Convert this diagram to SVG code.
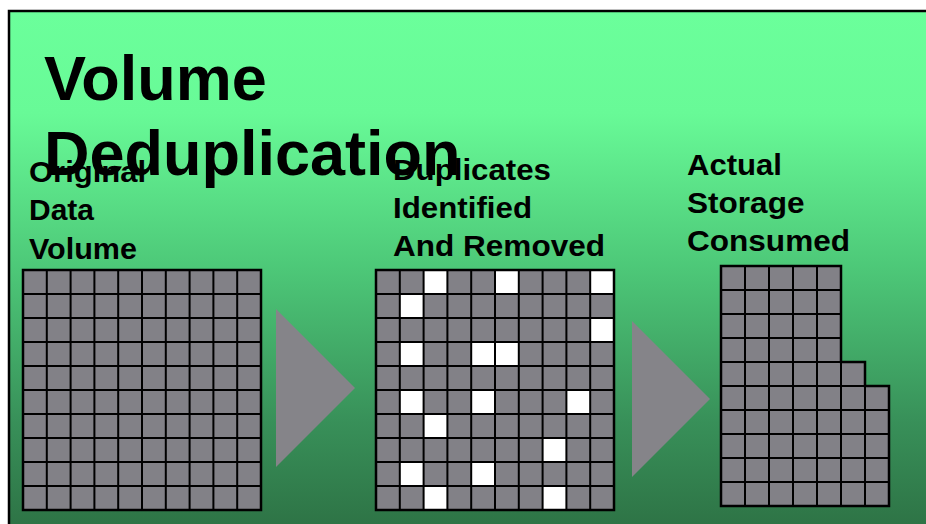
<svg xmlns="http://www.w3.org/2000/svg" width="926" height="524" viewBox="0 0 926 524">
  <defs>
    <linearGradient id="bg" gradientUnits="userSpaceOnUse" x1="0" y1="11" x2="0" y2="524">
      <stop offset="0" stop-color="#6BFF9B"/>
      <stop offset="0.2" stop-color="#68FA97"/>
      <stop offset="0.5" stop-color="#4DC878"/>
      <stop offset="0.8" stop-color="#389059"/>
      <stop offset="1" stop-color="#2E7446"/>
    </linearGradient>
    <style>
      .title { font-family: "Liberation Sans", Arial, sans-serif; font-weight: bold; font-size: 63px; fill: #000; }
      .label { font-family: "Liberation Sans", Arial, sans-serif; font-weight: bold; font-size: 30px; fill: #000; }
      .cellbg { fill: #828187; }
      .white { fill: #FFFFFF; }
      .lines { fill: none; stroke: #000; stroke-width: 2; }
      .outline { fill: none; stroke: #000; stroke-width: 2.5; }
      .arrow { fill: #858489; }
    </style>
  </defs>

  <rect x="0" y="0" width="926" height="524" fill="#FFFFFF"/>
  <rect x="9" y="11" width="930" height="530" fill="url(#bg)" stroke="#000" stroke-width="2.5"/>

  <g id="title">
    <text class="title" x="44" y="100">Volume</text>
    <text class="title" x="44" y="175">Deduplication</text>
  </g>

  <g id="label-original">
    <text class="label" x="29" y="181.5" textLength="117" lengthAdjust="spacingAndGlyphs">Original</text>
    <text class="label" x="29" y="220" textLength="65" lengthAdjust="spacingAndGlyphs">Data</text>
    <text class="label" x="29" y="258.5" textLength="108" lengthAdjust="spacingAndGlyphs">Volume</text>
  </g>

  <g id="label-duplicates">
    <text class="label" x="393" y="179.5" textLength="158" lengthAdjust="spacingAndGlyphs">Duplicates</text>
    <text class="label" x="393" y="217.5" textLength="139" lengthAdjust="spacingAndGlyphs">Identified</text>
    <text class="label" x="393" y="255.5" textLength="212" lengthAdjust="spacingAndGlyphs">And Removed</text>
  </g>

  <g id="label-actual">
    <text class="label" x="687" y="175" textLength="95" lengthAdjust="spacingAndGlyphs">Actual</text>
    <text class="label" x="687" y="213" textLength="117.5" lengthAdjust="spacingAndGlyphs">Storage</text>
    <text class="label" x="687" y="251" textLength="163" lengthAdjust="spacingAndGlyphs">Consumed</text>
  </g>

  <g id="grid-original">
    <rect class="cellbg" x="23" y="270" width="238" height="240"/>
    <path class="lines" d="M46.8 270V510M70.6 270V510M94.4 270V510M118.2 270V510M142 270V510M165.8 270V510M189.6 270V510M213.4 270V510M237.2 270V510M23 294H261M23 318H261M23 342H261M23 366H261M23 390H261M23 414H261M23 438H261M23 462H261M23 486H261"/>
    <rect class="outline" x="23" y="270" width="238" height="240"/>
  </g>

  <g id="grid-duplicates">
    <rect class="cellbg" x="376" y="270" width="238" height="240"/>
    <rect class="white" x="423.6" y="270" width="23.8" height="24"/>
    <rect class="white" x="495" y="270" width="23.8" height="24"/>
    <rect class="white" x="590.2" y="270" width="23.8" height="24"/>
    <rect class="white" x="399.8" y="294" width="23.8" height="24"/>
    <rect class="white" x="590.2" y="318" width="23.8" height="24"/>
    <rect class="white" x="399.8" y="342" width="23.8" height="24"/>
    <rect class="white" x="471.2" y="342" width="23.8" height="24"/>
    <rect class="white" x="495" y="342" width="23.8" height="24"/>
    <rect class="white" x="399.8" y="390" width="23.8" height="24"/>
    <rect class="white" x="471.2" y="390" width="23.8" height="24"/>
    <rect class="white" x="566.4" y="390" width="23.8" height="24"/>
    <rect class="white" x="423.6" y="414" width="23.8" height="24"/>
    <rect class="white" x="542.6" y="438" width="23.8" height="24"/>
    <rect class="white" x="399.8" y="462" width="23.8" height="24"/>
    <rect class="white" x="471.2" y="462" width="23.8" height="24"/>
    <rect class="white" x="423.6" y="486" width="23.8" height="24"/>
    <rect class="white" x="542.6" y="486" width="23.8" height="24"/>
    <path class="lines" d="M399.8 270V510M423.6 270V510M447.4 270V510M471.2 270V510M495 270V510M518.8 270V510M542.6 270V510M566.4 270V510M590.2 270V510M376 294H614M376 318H614M376 342H614M376 366H614M376 390H614M376 414H614M376 438H614M376 462H614M376 486H614"/>
    <rect class="outline" x="376" y="270" width="238" height="240"/>
  </g>

  <g id="grid-actual">
    <polygon class="cellbg" points="721,266 841,266 841,362 865,362 865,386 889,386 889,506 721,506"/>
    <path class="lines" d="M745 266V506M769 266V506M793 266V506M817 266V506M841 362V506M865 386V506M721 290H841M721 314H841M721 338H841M721 362H841M721 386H865M721 410H889M721 434H889M721 458H889M721 482H889"/>
    <polygon class="outline" points="721,266 841,266 841,362 865,362 865,386 889,386 889,506 721,506"/>
  </g>

  <g id="connectors">
    <polygon class="arrow" points="276,309 355,388 276,467"/>
    <polygon class="arrow" points="632,321 710,399 632,477"/>
  </g>
</svg>
